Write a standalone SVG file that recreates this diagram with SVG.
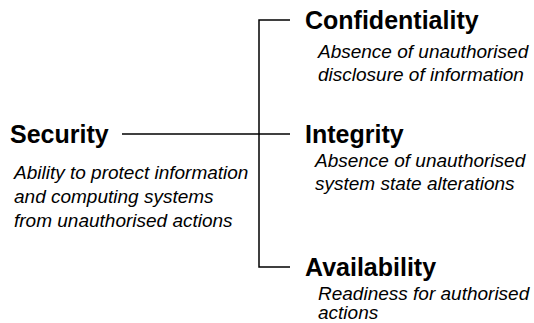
<svg xmlns="http://www.w3.org/2000/svg" width="534" height="323" viewBox="0 0 534 323">
<style>
.t{font-family:"Liberation Sans",Arial,sans-serif;font-weight:bold;font-size:25px;fill:#000}
.d{font-family:"Liberation Sans",Arial,sans-serif;font-style:italic;font-size:19px;fill:#000}
.c{stroke:#000;stroke-width:1.5;fill:none}
</style>
<rect width="534" height="323" fill="#fff"/>
<g id="connectors">
<path class="c" d="M290,20 H259 V267 H290"/>
<path class="c" d="M122,134 H290"/>
</g>
<g id="security">
<text class="t" x="10" y="143">Security</text>
<text class="d" x="14" y="179">Ability to protect information</text>
<text class="d" x="14" y="203">and computing systems</text>
<text class="d" x="14" y="227">from unauthorised actions</text>
</g>
<g id="confidentiality">
<text class="t" x="305" y="29">Confidentiality</text>
<text class="d" x="318" y="58">Absence of unauthorised</text>
<text class="d" x="318" y="81">disclosure of information</text>
</g>
<g id="integrity">
<text class="t" x="305" y="143">Integrity</text>
<text class="d" x="315" y="167">Absence of unauthorised</text>
<text class="d" x="315" y="190">system state alterations</text>
</g>
<g id="availability">
<text class="t" x="305" y="276">Availability</text>
<text class="d" x="318" y="300">Readiness for authorised</text>
<text class="d" x="318" y="319">actions</text>
</g>
</svg>
